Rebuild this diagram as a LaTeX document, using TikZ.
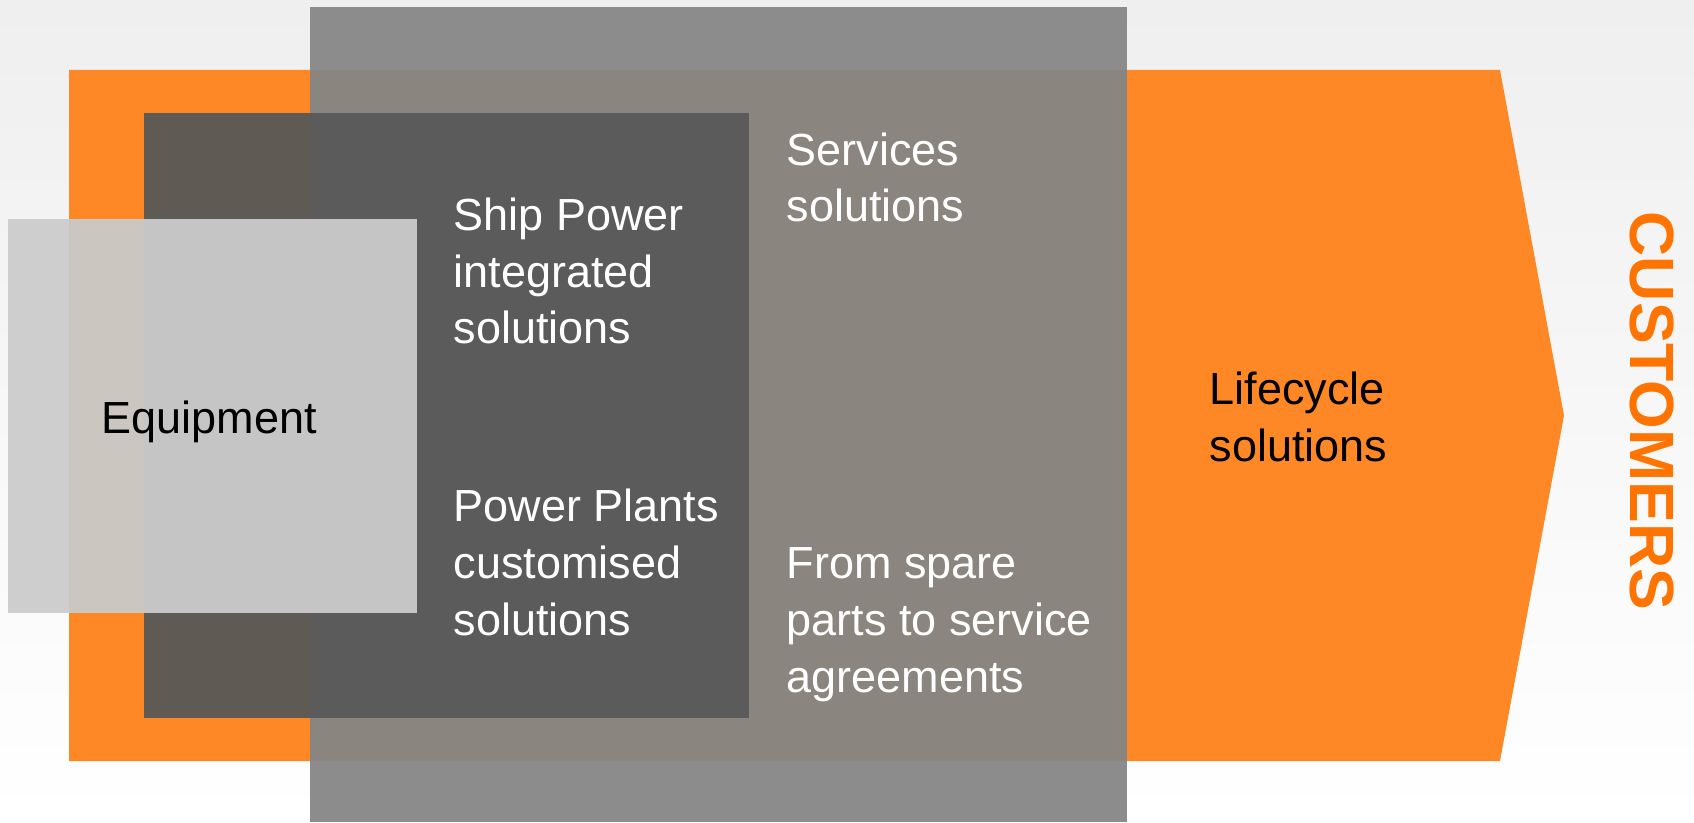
\documentclass[tikz,border=0pt]{standalone}
\usepackage{fontspec}
\setmainfont{Liberation Sans}
\definecolor{orangeA}{RGB}{254,136,38}
\definecolor{orangeT}{RGB}{255,116,0}
\definecolor{grayOut}{RGB}{140,140,140}
\definecolor{grayOnOr}{RGB}{138,133,126}
\definecolor{darkOnOr}{RGB}{95,90,84}
\definecolor{darkOnGr}{RGB}{91,91,91}
\definecolor{lightOut}{RGB}{206,206,206}
\definecolor{lightOnOr}{RGB}{203,198,192}
\definecolor{lightOnDk}{RGB}{197,197,197}
\definecolor{bgTop}{RGB}{239,239,239}
\tikzset{
  lbl/.style={anchor=base west, inner sep=0pt, align=left,
    font=\fontsize{12.8pt}{16.08pt}\selectfont},
  lblw/.style={lbl, text=white},
  lblk/.style={lbl, text=black},
}
\begin{document}
\begin{tikzpicture}
\useasboundingbox (0,0) rectangle (16.94,8.22);
% background
\shade[top color=bgTop, bottom color=white] (0,0) rectangle (16.94,8.22);
% orange arrow
\fill[orangeA] (0.69,0.61) -- (0.69,7.52) -- (15.00,7.52) -- (15.64,4.065) -- (15.00,0.61) -- cycle;
% big gray rectangle
\fill[grayOut] (3.10,0) rectangle (11.27,8.15);
\fill[grayOnOr] (3.10,0.61) rectangle (11.27,7.52);
% dark rectangle
\fill[darkOnOr] (1.44,1.04) rectangle (3.10,7.09);
\fill[darkOnGr] (3.10,1.04) rectangle (7.49,7.09);
% light rectangle
\fill[lightOut] (0.08,2.09) rectangle (0.69,6.03);
\fill[lightOnOr] (0.69,2.09) rectangle (1.44,6.03);
\fill[lightOnDk] (1.44,2.09) rectangle (4.17,6.03);
% texts (base anchor = baseline of the last line)
\node[lblk] (equip) at (1.01,3.89) {Equipment};
\node[lblw] (ship) at (4.53,4.78) {Ship Power\\integrated\\solutions};
\node[lblw] (plants) at (4.53,1.87) {Power Plants\\customised\\solutions};
\node[lblw] (serv) at (7.86,6.00) {Services\\solutions};
\node[lblw] (spare) at (7.86,1.30) {From spare\\parts to service\\agreements};
\node[lblk] (life) at (12.09,3.61) {Lifecycle\\solutions};
\node[anchor=base west, inner sep=0pt, rotate=-90, text=orangeT,
  font=\fontsize{17.8pt}{21pt}\selectfont\bfseries] (cust) at (16.30,6.11) {CUSTOMERS};
\end{tikzpicture}
\end{document}
